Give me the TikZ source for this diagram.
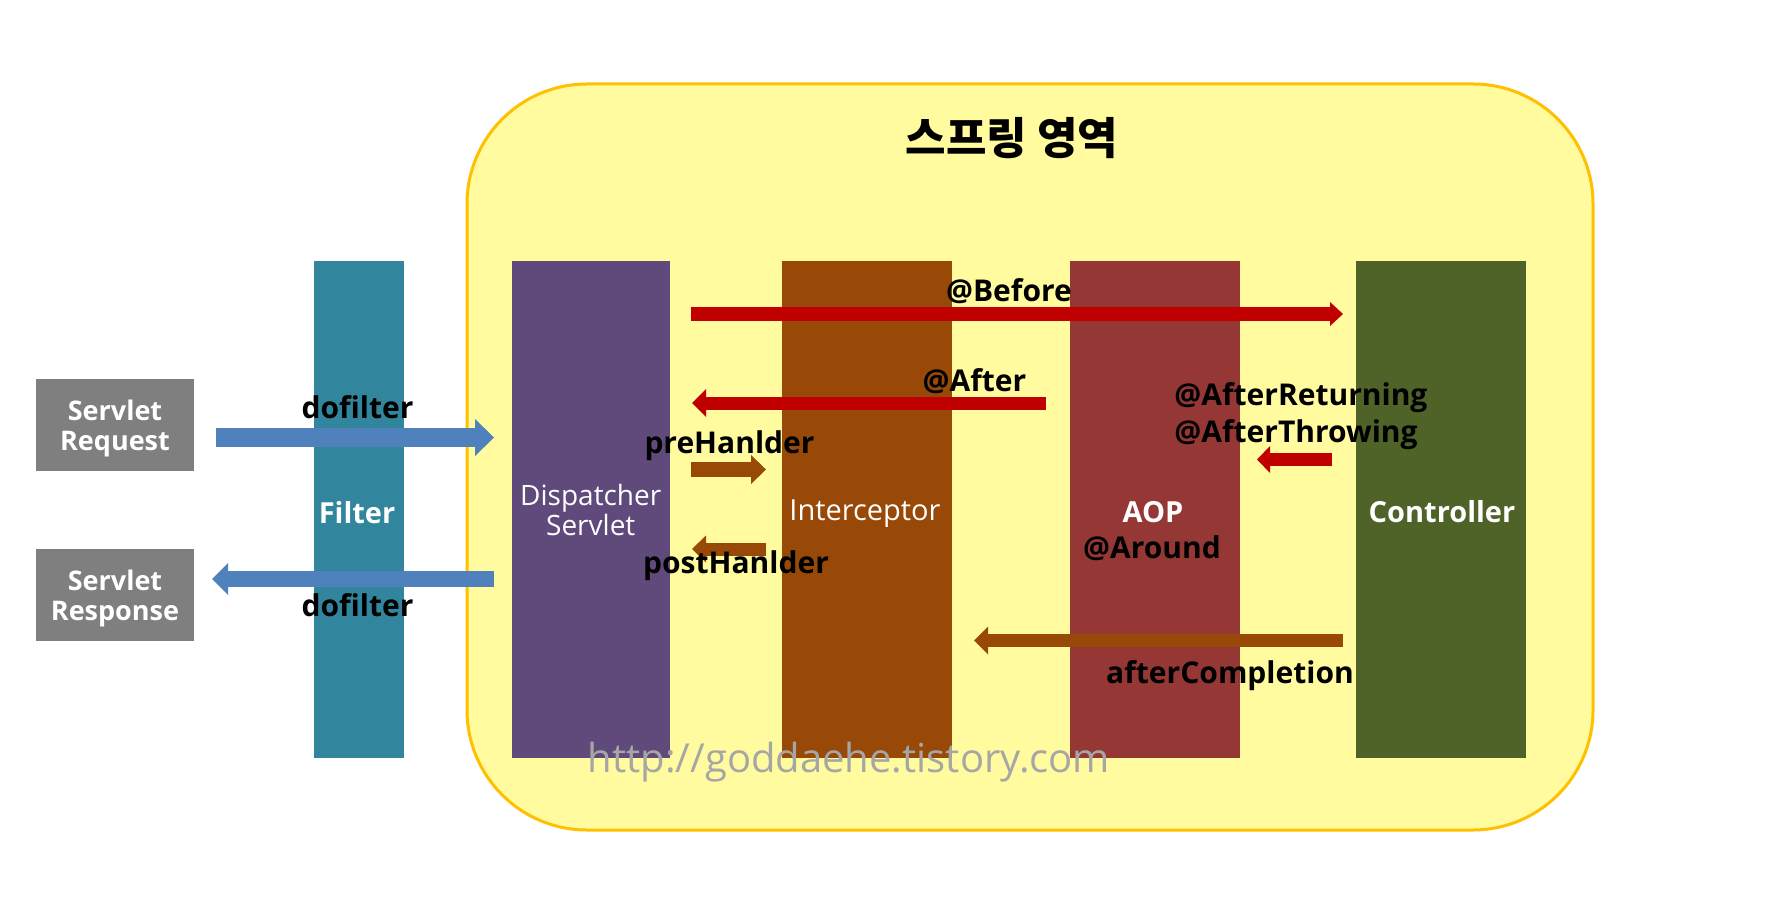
\documentclass[tikz,border=0pt]{standalone}
\usepackage{fontspec}
\setmainfont{Open Sans}
\newfontfamily\krfont{Noto Sans CJK KR}
\usetikzlibrary{arrows.meta}
\definecolor{springfill}{HTML}{FFFB9E}
\definecolor{springline}{HTML}{FFC000}
\definecolor{grayc}{HTML}{7F7F7F}
\definecolor{filterc}{HTML}{31859C}
\definecolor{dispc}{HTML}{604A7B}
\definecolor{interc}{HTML}{984807}
\definecolor{aopc}{HTML}{953735}
\definecolor{ctrlc}{HTML}{4F6228}
\definecolor{bluea}{HTML}{4F81BD}
\definecolor{reda}{HTML}{C00000}
\definecolor{browna}{HTML}{984807}
\definecolor{wmc}{HTML}{A6A6A6}
\tikzset{
  col/.style={inner sep=0pt, minimum height=248.5pt, text=white, align=center,
    font=\fontsize{14pt}{15pt}\selectfont},
  coltxt/.style={inner sep=0pt, text=white, anchor=base, font=\fontsize{14.5pt}{15pt}\selectfont},
  graybox/.style={fill=grayc, inner sep=0pt, minimum width=79pt, minimum height=46pt,
    text=white, align=center, text depth=0pt, font=\fontsize{13.5pt}{15pt}\selectfont\bfseries},
  lbl/.style={inner sep=0pt, text=black, font=\fontsize{15pt}{16pt}\selectfont\bfseries},
}
\begin{document}
\begin{tikzpicture}[x=0.5pt,y=-0.5pt]
\useasboundingbox (0,0) rectangle (1776,898);
\fill[white] (0,0) rectangle (1776,898);

% spring region
\node[draw=springline, fill=springfill, line width=1.5pt, rounded corners=60pt,
  minimum width=563pt, minimum height=373pt, inner sep=0pt] (spring) at (1030,457) {};
\node[inner sep=0pt, font=\krfont\bfseries\fontsize{22pt}{24pt}\selectfont] (title) at (1012,138) {스프링 영역};

% gray boxes
\node[graybox] (req) at (115,425) {Servlet\\Request};
\node[graybox] (resp) at (115,595) {Servlet\\Response};

% columns
\node[col, fill=filterc, minimum width=45pt] (filter) at (359,509.5) {};
\node[col, fill=dispc, minimum width=78.75pt] (disp) at (590.75,509.5) {Dispatcher\\Servlet};
\node[col, fill=interc, minimum width=84.75pt] (inter) at (866.75,509.5) {};
\node[col, fill=aopc, minimum width=85pt] (aop) at (1155,509.5) {};
\node[col, fill=ctrlc, minimum width=85pt] (ctrl) at (1441,509.5) {};
\node[coltxt, font=\fontsize{14.5pt}{15pt}\selectfont\bfseries] (filtertxt) at (357,523) {Filter};
\node[coltxt] (intertxt) at (865,520) {Interceptor};
\node[coltxt, font=\fontsize{14.5pt}{15pt}\selectfont\bfseries] (aoptxt) at (1153,522) {AOP};
\node[coltxt, font=\fontsize{14.5pt}{15pt}\selectfont\bfseries] (ctrltxt) at (1442,522) {Controller};

% arrow end points
\coordinate (reqS) at (216,437.5);  \coordinate (reqE) at (494,437.5);
\coordinate (respS) at (494,579);   \coordinate (respE) at (212,579);
\coordinate (befS) at (691,314);    \coordinate (befE) at (1343,314);
\coordinate (aftS) at (1046,403);   \coordinate (aftE) at (692,403);
\coordinate (preS) at (691,469.5);  \coordinate (preE) at (766,469.5);
\coordinate (postS) at (766,549);   \coordinate (postE) at (692,549);
\coordinate (thrS) at (1332,459.5); \coordinate (thrE) at (1257,459.5);
\coordinate (compS) at (1343,640.5);\coordinate (compE) at (974,640.5);

% arrows
\draw[bluea, line width=9.5pt, -{Triangle[length=9.5pt,width=18.5pt,line width=0pt]}] (reqS) -- (reqE);
\draw[bluea, line width=8pt, -{Triangle[length=8pt,width=16pt,line width=0pt]}] (respS) -- (respE);
\draw[reda, line width=7pt, -{Triangle[length=6.5pt,width=12pt,line width=0pt]}] (befS) -- (befE);
\draw[reda, line width=6.5pt, -{Triangle[length=7pt,width=14pt,line width=0pt]}] (aftS) -- (aftE);
\draw[browna, line width=7.5pt, -{Triangle[length=7.5pt,width=14.5pt,line width=0pt]}] (preS) -- (preE);
\draw[browna, line width=6.5pt, -{Triangle[length=7pt,width=13.5pt,line width=0pt]}] (postS) -- (postE);
\draw[reda, line width=6.5pt, -{Triangle[length=6.5pt,width=13.5pt,line width=0pt]}] (thrS) -- (thrE);
\draw[browna, line width=6.5pt, -{Triangle[length=7pt,width=14pt,line width=0pt]}] (compS) -- (compE);

% labels
\node[lbl, anchor=base] (dofA) at (357.5,418) {dofilter};
\node[lbl, anchor=base] (dofB) at (357.5,616) {dofilter};
\node[lbl, anchor=base] (before) at (1009,302) {@Before};
\node[lbl, anchor=base] (after) at (974.5,392) {@After};
\node[lbl, anchor=base] (pre) at (729.5,453) {preHanlder};
\node[lbl, anchor=base] (post) at (736,573) {postHanlder};
\node[lbl, anchor=base west] (aret) at (1174,405) {@AfterReturning};
\node[lbl, anchor=base west] (athr) at (1174,442) {@AfterThrowing};
\node[lbl, anchor=base] (around) at (1152,558) {@Around};
\node[lbl, anchor=base] (comp) at (1230,683) {afterCompletion};

% watermark
\node[inner sep=0pt, anchor=base, text=wmc, font=\fontsize{20pt}{22pt}\selectfont] (wm) at (849,772) {http://goddaehe.tistory.com};
\end{tikzpicture}
\end{document}
